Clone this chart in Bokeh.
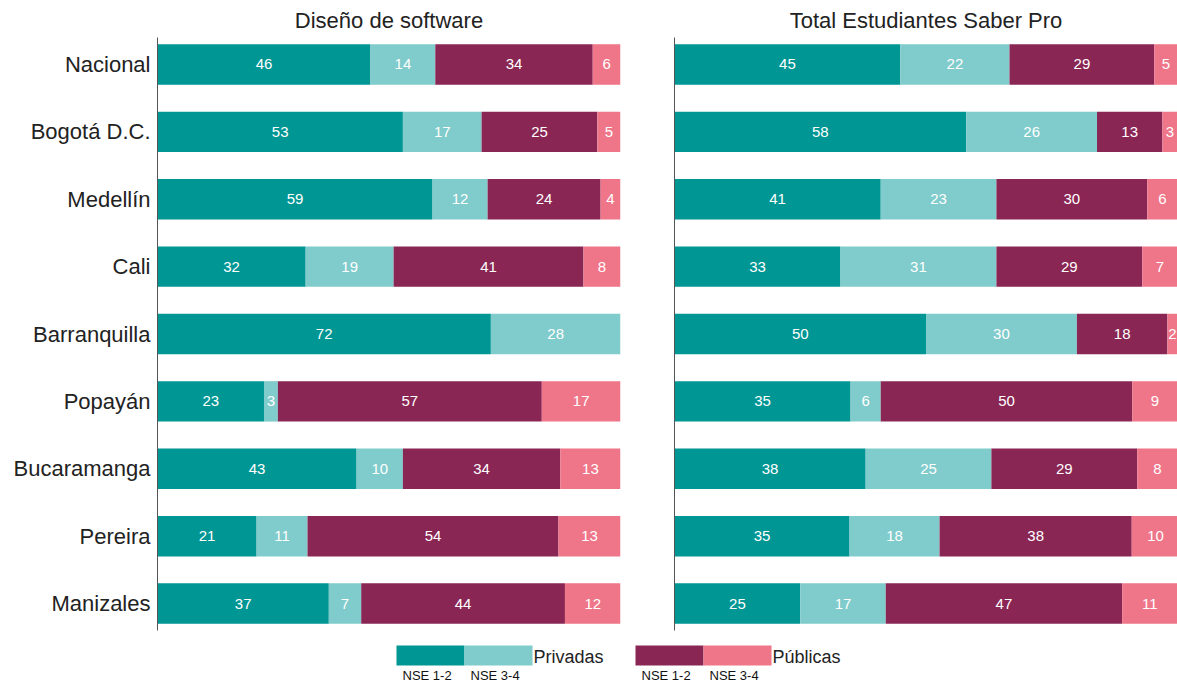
from bokeh.plotting import figure
from bokeh.layouts import row, column
from bokeh.models import Range1d, FixedTicker, ColumnDataSource
from bokeh.core.properties import value
from bokeh.embed import file_html
from bokeh.resources import INLINE

cities = ["Nacional", "Bogotá D.C.", "Medellín", "Cali", "Barranquilla",
          "Popayán", "Bucaramanga", "Pereira", "Manizales"]
segments = ["Privadas NSE 1-2", "Privadas NSE 3-4", "Públicas NSE 1-2", "Públicas NSE 3-4"]
titles = ["Diseño de software", "Total Estudiantes Saber Pro"]

# Diseño de software (percent, labels shown rounded)
sw_priv_12 = [46, 53, 59.4, 32, 72, 23, 43, 21.4, 37]
sw_priv_34 = [14, 17, 11.9, 19, 28, 3, 10, 11.0, 7]
sw_pub_12 = [34, 25, 24.4, 41, 0, 57, 34, 54.2, 44]
sw_pub_34 = [6, 5, 4.3, 8, 0, 17, 13, 13.4, 12]

# Total Estudiantes Saber Pro
tot_priv_12 = [44.9, 58, 41, 33, 50, 35, 38, 34.8, 25]
tot_priv_34 = [21.7, 26, 23, 31, 30, 6, 25, 17.9, 17]
tot_pub_12 = [28.8, 13, 30, 29, 18, 50, 29, 38.2, 47]
tot_pub_34 = [4.6, 3, 6, 7, 2, 9, 8, 9.5, 11]

legend_groups = ["Privadas", "Públicas"]
legend_levels = ["NSE 1-2", "NSE 3-4"]

colors = ["#009694", "#80CBCB", "#8A2654", "#EF7589"]
FONT = "Liberation Sans"


def panel(title, series, width, border_left, border_right, show_labels):
    n = len(cities)
    p = figure(width=width, height=632, output_backend="svg", toolbar_location=None,
               x_range=Range1d(0, 100), y_range=Range1d(n - 1 + 0.4, -0.4),
               min_border_left=border_left, min_border_right=border_right,
               min_border_top=37, min_border_bottom=2, title=title)
    p.title.align = "center"
    p.title.text_font = FONT
    p.title.text_font_size = "22px"
    p.title.text_font_style = "normal"
    p.title.text_color = "#222222"
    p.title.standoff = 9
    p.outline_line_color = None
    p.xgrid.visible = False
    p.ygrid.visible = False
    p.xaxis.visible = False
    idx = list(range(n))
    data = {"y": idx}
    for k, s in enumerate(series):
        data["s%d" % k] = s
    src = ColumnDataSource(data)
    p.hbar_stack(["s0", "s1", "s2", "s3"], y="y", height=0.6, color=colors,
                 line_color=None, source=src)
    # labels
    lx, ly, lt = [], [], []
    for i in idx:
        left = 0
        for s in series:
            v = s[i]
            if v > 0:
                lx.append(left + v / 2)
                ly.append(i)
                lt.append(str(int(round(v))))
            left += v
    p.text(x=lx, y=ly, text=lt, text_align="center", text_baseline="middle",
           text_color="white", text_font=value(FONT), text_font_size="15px")
    ax = p.yaxis[0]
    ax.axis_line_color = "#555555"
    ax.major_tick_line_color = None
    ax.minor_tick_line_color = None
    ax.major_tick_out = 0
    ax.major_tick_in = 0
    if show_labels:
        ax.ticker = FixedTicker(ticks=idx)
        ax.major_label_overrides = {i: c for i, c in enumerate(cities)}
        ax.major_label_text_font = FONT
        ax.major_label_text_font_size = "22px"
        ax.major_label_text_color = "#222222"
        ax.major_label_standoff = 7
    else:
        ax.ticker = FixedTicker(ticks=[])
    return p


p1 = panel(titles[0], [sw_priv_12, sw_priv_34, sw_pub_12, sw_pub_34], 648, 157, 28, True)
p2 = panel(titles[1], [tot_priv_12, tot_priv_34, tot_pub_12, tot_pub_34], 529, 26, 0, False)

# legend strip
lg = figure(width=1177, height=53, output_backend="svg", toolbar_location=None,
            x_range=Range1d(0, 1177), y_range=Range1d(53, 0),
            min_border_left=0, min_border_right=0, min_border_top=0, min_border_bottom=0)
lg.axis.visible = False
lg.grid.visible = False
lg.outline_line_color = None
group_x = [396, 635]
box_w = 68
lx, lt, sx, st = [], [], [], []
for g, gx in enumerate(group_x):
    for k in range(2):
        lg.quad(left=gx + k * box_w, right=gx + (k + 1) * box_w, top=13, bottom=33,
                color=colors[2 * g + k], line_color=None)
        sx.append(gx + k * box_w + 6)
        st.append(legend_levels[k])
    lx.append(gx + 2 * box_w + 1)
    lt.append(legend_groups[g])
lg.text(x=lx, y=[24] * len(lx), text=lt, text_align="left", text_baseline="middle",
        text_color="#222222", text_font=value(FONT), text_font_size="18px")
lg.text(x=sx, y=[43] * len(sx), text=st, text_align="left", text_baseline="middle",
        text_color="#111111", text_font=value(FONT), text_font_size="13px")

layout = column(row(p1, p2), lg)
open("out.html", "w").write(file_html(layout, INLINE))
